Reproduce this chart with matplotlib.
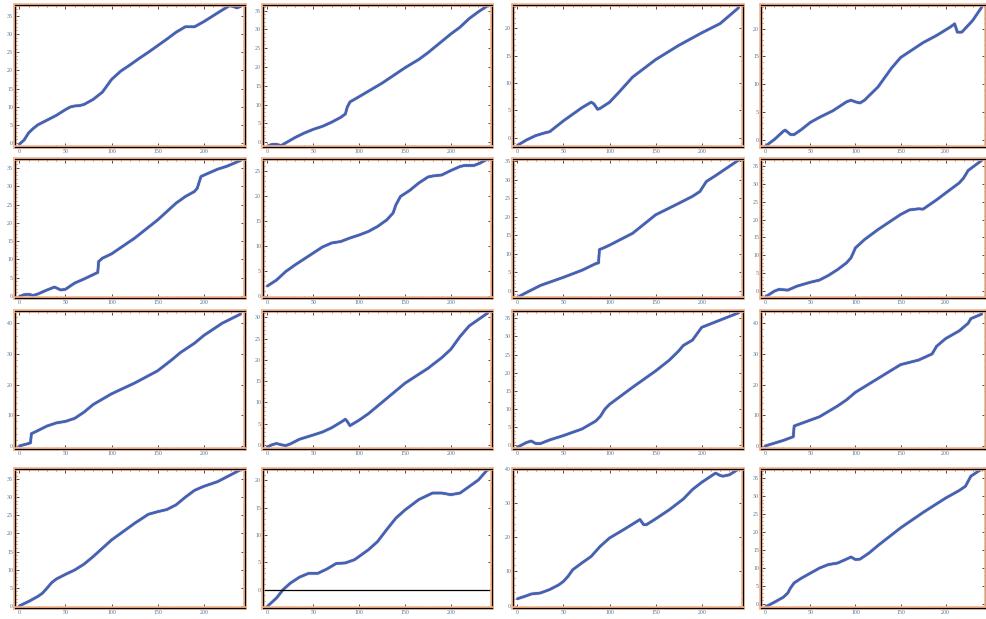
import matplotlib
matplotlib.use("Agg")
import matplotlib.pyplot as plt
import matplotlib.patheffects as pe
from matplotlib.ticker import MultipleLocator

# ---- data ----
p1_x = [0, 5, 10, 15, 20, 30, 40, 50, 55, 60, 65, 70, 80, 90, 100, 110, 120, 130, 140, 150, 160, 170, 180, 190, 200, 210, 220, 228, 232, 236, 240]
p1_y = [-0.3, 0.8, 2.8, 4.0, 5.0, 6.3, 7.6, 9.2, 9.9, 10.2, 10.3, 10.6, 12.0, 14.0, 17.5, 19.8, 21.5, 23.3, 25.0, 26.8, 28.6, 30.5, 32.0, 32.0, 33.4, 35.0, 36.6, 37.8, 37.6, 37.2, 37.6]

p2_x = [0, 5, 10, 15, 20, 30, 40, 50, 60, 70, 80, 85, 87, 90, 100, 125, 150, 165, 175, 200, 210, 220, 230, 240]
p2_y = [-1.1, -0.6, -0.6, -0.9, -0.2, 1.2, 2.4, 3.4, 4.2, 5.3, 6.6, 7.5, 9.3, 10.7, 12.1, 15.7, 19.8, 22.0, 23.8, 28.8, 30.6, 32.9, 34.7, 36.3]

p3_x = [0, 10, 20, 30, 35, 50, 60, 70, 80, 83, 87, 90, 100, 110, 125, 150, 175, 200, 220, 240]
p3_y = [-1.4, -0.4, 0.4, 0.9, 1.1, 3.1, 4.3, 5.5, 6.5, 6.2, 5.2, 5.4, 6.5, 8.3, 11.1, 14.3, 16.9, 19.2, 20.9, 23.8]

p4_x = [0, 10, 20, 22, 28, 32, 40, 50, 60, 75, 90, 95, 100, 105, 110, 125, 140, 150, 175, 190, 205, 210, 213, 218, 230, 240]
p4_y = [-1.2, 0.0, 1.5, 1.7, 0.9, 0.9, 1.8, 3.1, 4.0, 5.2, 6.8, 7.1, 6.8, 6.6, 7.1, 9.5, 12.9, 14.8, 17.5, 18.8, 20.3, 20.9, 19.4, 19.4, 21.5, 23.9]

p5_x = [0, 5, 10, 15, 20, 30, 38, 45, 50, 60, 70, 80, 85, 86, 90, 100, 125, 150, 160, 170, 180, 190, 193, 197, 205, 215, 225, 240]
p5_y = [-0.2, 0.3, 0.4, 0.1, 0.5, 1.6, 2.4, 1.6, 1.8, 3.5, 4.6, 5.8, 6.4, 9.4, 10.3, 11.5, 15.8, 20.8, 23.1, 25.4, 27.2, 28.6, 29.5, 32.7, 33.6, 34.7, 35.5, 37.1]

p6_x = [0, 10, 20, 30, 50, 60, 70, 80, 90, 100, 110, 120, 130, 137, 140, 145, 155, 165, 175, 180, 190, 200, 210, 215, 225, 232, 240]
p6_y = [2.1, 3.3, 5.0, 6.3, 8.7, 9.9, 10.7, 11.0, 11.7, 12.3, 13.0, 14.0, 15.3, 16.7, 18.3, 20.0, 21.2, 22.7, 23.9, 24.1, 24.3, 25.2, 26.0, 26.2, 26.2, 26.7, 27.5]

p7_x = [0, 10, 25, 50, 70, 85, 88, 89, 93, 100, 125, 150, 175, 190, 198, 205, 215, 240]
p7_y = [-1.8, -0.5, 1.4, 3.6, 5.5, 7.3, 7.5, 11.1, 11.5, 12.3, 15.5, 20.5, 23.6, 25.5, 26.8, 29.5, 31.1, 35.3]

p8_x = [0, 10, 15, 25, 35, 50, 60, 70, 80, 90, 95, 100, 110, 125, 150, 160, 170, 175, 190, 200, 215, 220, 225, 240]
p8_y = [-1.6, 0.0, 0.5, 0.3, 1.4, 2.5, 3.1, 4.4, 6.0, 7.9, 9.3, 12.1, 14.4, 17.2, 21.4, 22.7, 23.0, 22.9, 25.5, 27.4, 30.2, 31.6, 33.7, 36.5]

p9_x = [0, 10, 12, 13, 20, 30, 40, 50, 60, 70, 80, 100, 125, 150, 165, 175, 190, 200, 220, 240]
p9_y = [0.0, 0.8, 1.0, 4.0, 5.0, 6.5, 7.5, 8.0, 9.0, 11.0, 13.5, 17.0, 20.5, 24.5, 28.0, 30.5, 33.5, 36.0, 40.0, 43.0]

p10_x = [0, 5, 10, 15, 20, 25, 35, 50, 60, 70, 80, 85, 87, 90, 100, 110, 125, 150, 175, 190, 200, 210, 220, 230, 240]
p10_y = [-0.5, 0.0, 0.3, 0.0, -0.2, 0.2, 1.3, 2.3, 3.0, 4.0, 5.3, 6.0, 5.5, 4.5, 5.8, 7.3, 10.0, 14.5, 18.0, 20.5, 22.5, 25.5, 28.0, 29.5, 31.0]

p11_x = [0, 10, 15, 20, 25, 35, 50, 70, 85, 90, 95, 100, 125, 150, 165, 175, 180, 190, 200, 210, 220, 240]
p11_y = [-0.5, 0.8, 1.2, 0.5, 0.5, 1.5, 2.7, 4.5, 6.7, 8.0, 10.0, 11.3, 16.0, 20.5, 23.5, 26.0, 27.5, 29.0, 32.5, 33.5, 34.5, 36.5]

p12_x = [0, 20, 31, 32, 60, 80, 90, 100, 125, 150, 170, 185, 190, 200, 215, 225, 228, 240]
p12_y = [0.0, 1.8, 3.0, 6.5, 9.5, 13.0, 15.0, 17.5, 22.0, 26.5, 28.0, 30.0, 32.5, 35.0, 37.5, 40.0, 41.5, 43.0]

p13_x = [0, 10, 20, 25, 30, 35, 40, 50, 60, 70, 80, 100, 125, 140, 150, 160, 170, 180, 190, 200, 215, 240]
p13_y = [0.0, 1.2, 2.6, 3.5, 4.9, 6.4, 7.4, 8.7, 9.9, 11.5, 13.6, 18.2, 22.8, 25.3, 26.0, 26.6, 27.9, 30.0, 31.9, 33.0, 34.3, 37.6]

p14_x = [0, 10, 17, 25, 35, 45, 55, 65, 75, 85, 95, 110, 120, 130, 140, 150, 165, 180, 190, 200, 210, 220, 230, 240]
p14_y = [-3.05, -1.5, 0.0, 1.2, 2.3, 3.0, 3.0, 3.8, 4.8, 4.9, 5.5, 7.3, 8.8, 11.0, 13.1, 14.6, 16.5, 17.7, 17.7, 17.4, 17.7, 18.9, 20.1, 22.0]

p15_x = [0, 10, 15, 25, 35, 45, 50, 55, 60, 70, 80, 90, 100, 115, 130, 133, 137, 140, 150, 165, 180, 190, 200, 210, 215, 220, 223, 230, 240]
p15_y = [2.0, 2.9, 3.4, 3.7, 4.7, 6.1, 7.1, 8.6, 10.5, 12.5, 14.4, 17.4, 19.8, 22.2, 24.7, 25.2, 23.7, 23.7, 25.4, 28.1, 31.2, 34.0, 36.1, 37.9, 38.8, 38.1, 37.9, 38.3, 40.0]

p16_x = [0, 10, 20, 25, 28, 32, 40, 50, 60, 70, 80, 90, 95, 100, 105, 115, 125, 150, 175, 200, 215, 222, 228, 240]
p16_y = [-0.9, 0.4, 1.8, 3.0, 4.4, 5.8, 7.1, 8.5, 9.9, 10.9, 11.3, 12.4, 13.0, 12.3, 12.4, 14.1, 16.2, 21.1, 25.4, 29.4, 31.5, 32.7, 35.5, 37.5]

series_x = [p1_x, p2_x, p3_x, p4_x, p5_x, p6_x, p7_x, p8_x,
            p9_x, p10_x, p11_x, p12_x, p13_x, p14_x, p15_x, p16_x]
series_y = [p1_y, p2_y, p3_y, p4_y, p5_y, p6_y, p7_y, p8_y,
            p9_y, p10_y, p11_y, p12_y, p13_y, p14_y, p15_y, p16_y]

y_limits = [(-1.1, 38.0), (-1.3, 36.5), (-1.7, 24.3), (-1.35, 24.3),
            (-0.6, 37.5), (-0.3, 27.5), (-2.0, 35.6), (-1.9, 36.9),
            (-1.0, 44.0), (-1.0, 31.5), (-1.0, 37.0), (-1.0, 44.0),
            (-0.6, 37.8), (-3.35, 22.1), (-0.7, 40.0), (-1.2, 37.5)]
y_major = [5, 5, 5, 5, 5, 5, 5, 5, 10, 5, 5, 10, 5, 5, 10, 5]
x_limits = (-4.8, 244.8)

# ---- layout (pixel boxes) ----
W, H = 987, 619
col_px = [(15, 245), (263, 492), (513, 743), (761, 986)]
row_px = [(5, 147), (159, 298), (311, 449), (469, 608)]

LINE = "#3d64b5"
TICKC = "#4f7394"
GLOW = "#f3b48f"

fig = plt.figure(figsize=(W / 100, H / 100), dpi=100)
fig.patch.set_facecolor("white")

for i in range(16):
    r, c = divmod(i, 4)
    l, rr = col_px[c]
    t, b = row_px[r]
    ax = fig.add_axes([l / W, 1 - b / H, (rr - l) / W, (b - t) / H])
    ax.plot(series_x[i], series_y[i], color=LINE, lw=1.7, solid_capstyle="round",
            solid_joinstyle="round",
            path_effects=[pe.withStroke(linewidth=2.7, foreground="#f3d3dc"), pe.Normal()])
    if i == 13:
        ax.axhline(0, color="black", lw=0.9)
    ax.set_xlim(*x_limits)
    ax.set_ylim(*y_limits[i])
    ax.xaxis.set_major_locator(MultipleLocator(50))
    ax.xaxis.set_minor_locator(MultipleLocator(10))
    ax.yaxis.set_major_locator(MultipleLocator(y_major[i]))
    ax.yaxis.set_minor_locator(MultipleLocator(y_major[i] / 5))
    ax.tick_params(which="both", direction="in", top=True, right=True,
                   color="#3a2a20", pad=1.5)
    ax.tick_params(which="major", length=3, width=0.6, labelsize=4.2,
                   labelcolor=TICKC)
    ax.tick_params(which="minor", length=1.6, width=0.5)
    for lab in ax.get_xticklabels() + ax.get_yticklabels():
        lab.set_family("Liberation Serif")
    for sp in ax.spines.values():
        sp.set_color("black")
        sp.set_linewidth(0.8)
        sp.set_path_effects([pe.withStroke(linewidth=2.6, foreground=GLOW), pe.Normal()])

fig.savefig("out.png", dpi=100, facecolor="white")
